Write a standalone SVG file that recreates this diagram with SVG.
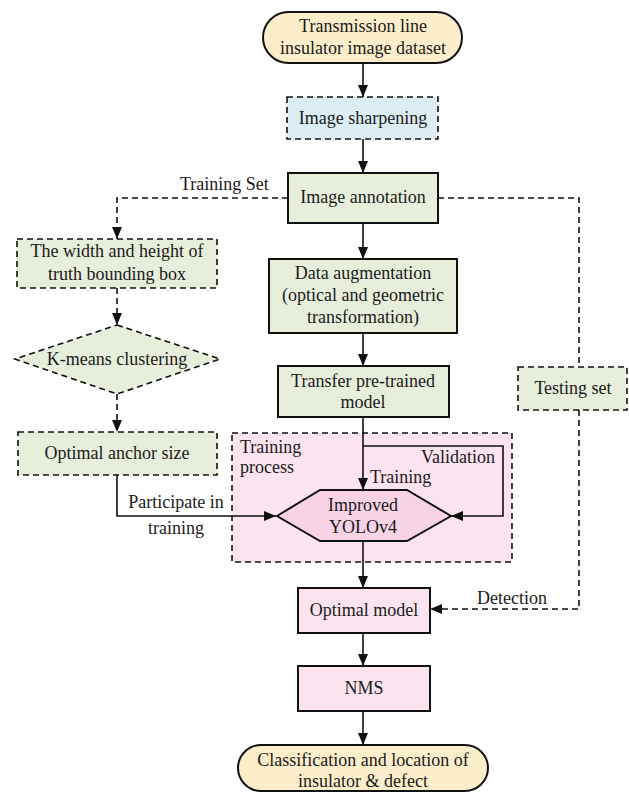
<svg xmlns="http://www.w3.org/2000/svg" width="629" height="793" viewBox="0 0 629 793">
<style>
text{font-family:"Liberation Serif","Times New Roman",serif;font-size:18px;fill:#1a1a1a}
.c{text-anchor:middle}
.solid{stroke:#111;stroke-width:2}
.dash{stroke:#111;stroke-width:1.6;stroke-dasharray:6,4}
.term{fill:#fdeecb}
.blue{fill:#dcedf3}
.green{fill:#e8eedc}
.pink{fill:#fbe3ef}
.hex{fill:#f8d3e6}
.ln{fill:none;stroke:#111;stroke-width:1.6}
.dl{fill:none;stroke:#111;stroke-width:1.6;stroke-dasharray:6,4}
</style>
<defs>
<marker id="ah" markerUnits="userSpaceOnUse" markerWidth="13" markerHeight="11" refX="12" refY="5" orient="auto">
<path d="M0,0 L12,5 L0,10 z" fill="#111"/>
</marker>
</defs>
<g id="training-process">
<rect x="232" y="433" width="280" height="129" class="pink dash"/>
<text x="240" y="453">Training</text>
<text x="240" y="473">process</text>
</g>
<g id="connectors">
<path class="ln" d="M363,63 V97" marker-end="url(#ah)"/>
<path class="ln" d="M363,139 V173" marker-end="url(#ah)"/>
<path class="ln" d="M363,223 V259" marker-end="url(#ah)"/>
<path class="ln" d="M363,333 V366" marker-end="url(#ah)"/>
<path class="ln" d="M363,417 V490" marker-end="url(#ah)"/>
<path class="ln" d="M363,446 H503 V516 H451" marker-end="url(#ah)"/>
<path class="ln" d="M363,541 V588" marker-end="url(#ah)"/>
<path class="ln" d="M363,633 V666" marker-end="url(#ah)"/>
<path class="ln" d="M363,711 V745" marker-end="url(#ah)"/>
<path class="dl" d="M288,198 H117 V239" marker-end="url(#ah)"/>
<path class="dl" d="M117,288 V325" marker-end="url(#ah)"/>
<path class="dl" d="M117,394 V432" marker-end="url(#ah)"/>
<path class="ln" d="M117,475 V516 H276" marker-end="url(#ah)"/>
<path class="dl" d="M438,198 H579 V367"/>
<path class="dl" d="M579,410 V609 H430" marker-end="url(#ah)"/>
<text x="180" y="190">Training Set</text>
<text x="176" y="508" class="c">Participate in</text>
<text x="176" y="534" class="c">training</text>
<text x="421" y="463">Validation</text>
<text x="370" y="483">Training</text>
<text x="477" y="604">Detection</text>
</g>
<g id="dataset">
<rect x="263" y="12" width="199" height="51" rx="25.5" class="term solid"/>
<text x="363" y="32" class="c">Transmission line</text>
<text x="363" y="54" class="c">insulator image dataset</text>
</g>
<g id="sharpening">
<rect x="287" y="97" width="151" height="42" class="blue dash"/>
<text x="363" y="124" class="c">Image sharpening</text>
</g>
<g id="annotation">
<rect x="288" y="173" width="150" height="50" class="green solid"/>
<text x="363" y="203" class="c">Image annotation</text>
</g>
<g id="augmentation">
<rect x="269" y="259" width="188" height="74" class="green solid"/>
<text x="363" y="279" class="c">Data augmentation</text>
<text x="363" y="301" class="c">(optical and geometric</text>
<text x="363" y="323" class="c">transformation)</text>
</g>
<g id="transfer">
<rect x="278" y="366" width="171" height="51" class="green solid"/>
<text x="363" y="387" class="c">Transfer pre-trained</text>
<text x="363" y="408" class="c">model</text>
</g>
<g id="bbox">
<rect x="17" y="239" width="200" height="49" class="green dash"/>
<text x="117" y="257" class="c">The width and height of</text>
<text x="117" y="280" class="c">truth bounding box</text>
</g>
<g id="kmeans">
<polygon points="117,325 220,359 117,394 15,359" class="green dash"/>
<text x="117" y="365" class="c">K-means clustering</text>
</g>
<g id="anchor">
<rect x="18" y="432" width="199" height="43" class="green dash"/>
<text x="117" y="459" class="c">Optimal anchor size</text>
</g>
<g id="testing">
<rect x="518" y="367" width="109" height="43" class="green dash"/>
<text x="573" y="394" class="c">Testing set</text>
</g>
<g id="yolo">
<polygon points="277,516 320,490 407,490 451,516 407,541 320,541" class="hex solid"/>
<text x="363" y="511" class="c">Improved</text>
<text x="363" y="533" class="c">YOLOv4</text>
</g>
<g id="optimal-model">
<rect x="298" y="588" width="132" height="45" class="pink solid"/>
<text x="364" y="616" class="c">Optimal model</text>
</g>
<g id="nms">
<rect x="298" y="666" width="132" height="45" class="pink solid"/>
<text x="364" y="694" class="c">NMS</text>
</g>
<g id="result">
<rect x="238" y="745" width="250" height="46" rx="23" class="term solid"/>
<text x="363" y="766" class="c">Classification and location of</text>
<text x="363" y="787" class="c">insulator &amp; defect</text>
</g>
</svg>
